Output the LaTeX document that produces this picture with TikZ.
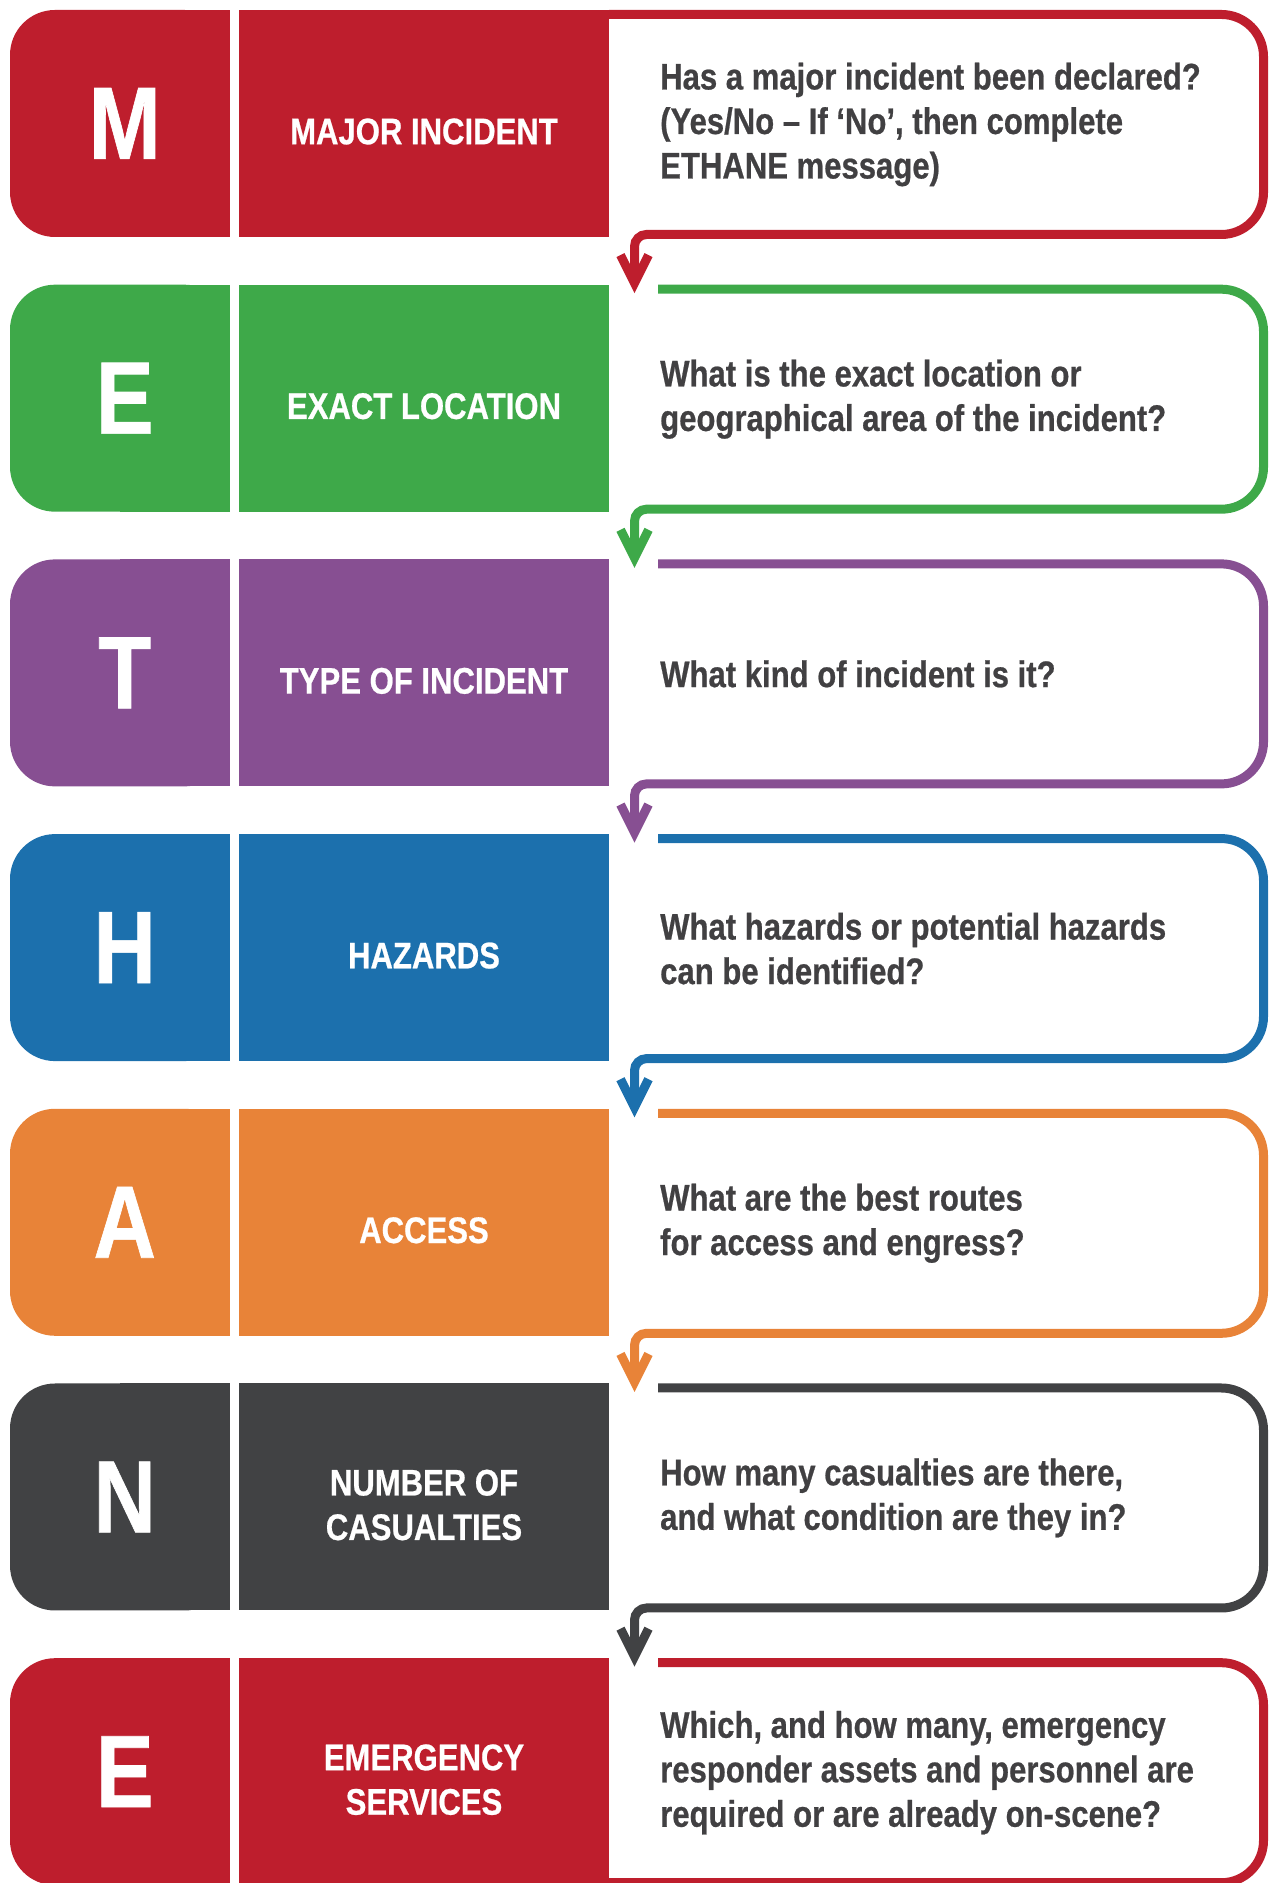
\documentclass[tikz,border=0pt]{standalone}
\usepackage{fontspec}
\setmainfont{Liberation Sans}
\newfontfamily\narrowsans[FakeStretch=0.84,FakeBold=0.6]{Liberation Sans}
\usepackage{tikz}
\usetikzlibrary{positioning,arrows.meta,backgrounds}
\definecolor{majorcolor}{RGB}{190,30,45}
\definecolor{locationcolor}{RGB}{62,169,73}
\definecolor{typecolor}{RGB}{135,79,146}
\definecolor{hazardscolor}{RGB}{28,112,173}
\definecolor{accesscolor}{RGB}{232,131,56}
\definecolor{casualtiescolor}{RGB}{65,66,68}
\definecolor{servicescolor}{RGB}{190,30,45}
\definecolor{questioncolor}{RGB}{65,64,66}

\begin{document}
\begin{tikzpicture}[x=1pt, y=1pt, >={Straight Barb[length=28pt,width=28pt]},
    letterbox/.style={anchor=north west, minimum width=219.5pt, minimum height=227pt, inner sep=0pt, outer sep=0pt,
        rounded corners=45pt, text=white, font=\narrowsans\bfseries\fontsize{103pt}{103pt}\selectfont,
        execute at begin node=\hspace*{10pt}},
    labelbox/.style={anchor=north west, minimum width=370pt, minimum height=227pt, inner sep=0pt, outer sep=0pt},
    labeltext/.style={text=white, align=center, inner sep=0pt, font=\narrowsans\bfseries\fontsize{37pt}{44.5pt}\selectfont},
    qarea/.style={anchor=north west, minimum width=654.5pt, minimum height=220pt, inner sep=0pt, outer sep=0pt},
    qtext/.style={anchor=west, align=left, inner sep=0pt, text=questioncolor, font=\narrowsans\bfseries\fontsize{37pt}{44.5pt}\selectfont},
    flowline/.style={line width=9pt, rounded corners=42pt}]

    \useasboundingbox (0,0) rectangle (1272,1883);

    % Lettres
    \node[letterbox, fill=majorcolor] (majorletter) at (10,1873) {M};
    \node[letterbox, fill=locationcolor] (locationletter) at (10,1598.3) {E};
    \node[letterbox, fill=typecolor] (typeletter) at (10,1323.6) {T};
    \node[letterbox, fill=hazardscolor] (hazardsletter) at (10,1048.9) {H};
    \node[letterbox, fill=accesscolor] (accessletter) at (10,774.2) {A};
    \node[letterbox, fill=casualtiescolor] (casualtiesletter) at (10,499.5) {N};
    \node[letterbox, fill=servicescolor] (servicesletter) at (10,224.8) {E};

    % Coins droits des lettres
    \begin{scope}[on background layer]
        \fill[majorcolor] (majorletter.north) rectangle (majorletter.south east);
        \fill[locationcolor] (locationletter.north) rectangle (locationletter.south east);
        \fill[typecolor] (typeletter.north) rectangle (typeletter.south east);
        \fill[hazardscolor] (hazardsletter.north) rectangle (hazardsletter.south east);
        \fill[accesscolor] (accessletter.north) rectangle (accessletter.south east);
        \fill[casualtiescolor] (casualtiesletter.north) rectangle (casualtiesletter.south east);
        \fill[servicescolor] (servicesletter.north) rectangle (servicesletter.south east);
    \end{scope}

    % Bandeaux
    \node[labelbox, fill=majorcolor] (majorlabel) at (239,1873) {};
    \node[labelbox, fill=locationcolor] (locationlabel) at (239,1598.3) {};
    \node[labelbox, fill=typecolor] (typelabel) at (239,1323.6) {};
    \node[labelbox, fill=hazardscolor] (hazardslabel) at (239,1048.9) {};
    \node[labelbox, fill=accesscolor] (accesslabel) at (239,774.2) {};
    \node[labelbox, fill=casualtiescolor] (casualtieslabel) at (239,499.5) {};
    \node[labelbox, fill=servicescolor] (serviceslabel) at (239,224.8) {};

    \node[labeltext] (majortitle) at ([yshift=-8pt]majorlabel.center) {MAJOR INCIDENT};
    \node[labeltext] (locationtitle) at ([yshift=-8pt]locationlabel.center) {EXACT LOCATION};
    \node[labeltext] (typetitle) at ([yshift=-8pt]typelabel.center) {TYPE OF INCIDENT};
    \node[labeltext] (hazardstitle) at ([yshift=-8pt]hazardslabel.center) {HAZARDS};
    \node[labeltext] (accesstitle) at ([yshift=-8pt]accesslabel.center) {ACCESS};
    \node[labeltext] (casualtiestitle) at ([yshift=-8pt]casualtieslabel.center) {NUMBER OF\\CASUALTIES};
    \node[labeltext] (servicestitle) at ([yshift=-8pt]serviceslabel.center) {EMERGENCY\\SERVICES};

    % Zones des questions
    \node[qarea] (majorarea) at (609,1868.5) {};
    \node[qarea] (locationarea) at (609,1593.8) {};
    \node[qarea] (typearea) at (609,1319.1) {};
    \node[qarea] (hazardsarea) at (609,1044.4) {};
    \node[qarea] (accessarea) at (609,769.7) {};
    \node[qarea] (casualtiesarea) at (609,495) {};
    \node[qarea] (servicesarea) at (609,220.3) {};

    % Cadres et flèches
    \draw[flowline, majorcolor, ->] (majorarea.north west) -- (majorarea.north east) -- (majorarea.south east)
        [rounded corners=12pt] -- ([xshift=25.5pt]majorarea.south west) -- ([xshift=25.5pt,yshift=-4pt]locationarea.north west);
    \draw[flowline, locationcolor, ->] ([xshift=49pt]locationarea.north west) -- (locationarea.north east) -- (locationarea.south east)
        [rounded corners=12pt] -- ([xshift=25.5pt]locationarea.south west) -- ([xshift=25.5pt,yshift=-4pt]typearea.north west);
    \draw[flowline, typecolor, ->] ([xshift=49pt]typearea.north west) -- (typearea.north east) -- (typearea.south east)
        [rounded corners=12pt] -- ([xshift=25.5pt]typearea.south west) -- ([xshift=25.5pt,yshift=-4pt]hazardsarea.north west);
    \draw[flowline, hazardscolor, ->] ([xshift=49pt]hazardsarea.north west) -- (hazardsarea.north east) -- (hazardsarea.south east)
        [rounded corners=12pt] -- ([xshift=25.5pt]hazardsarea.south west) -- ([xshift=25.5pt,yshift=-4pt]accessarea.north west);
    \draw[flowline, accesscolor, ->] ([xshift=49pt]accessarea.north west) -- (accessarea.north east) -- (accessarea.south east)
        [rounded corners=12pt] -- ([xshift=25.5pt]accessarea.south west) -- ([xshift=25.5pt,yshift=-4pt]casualtiesarea.north west);
    \draw[flowline, casualtiescolor, ->] ([xshift=49pt]casualtiesarea.north west) -- (casualtiesarea.north east) -- (casualtiesarea.south east)
        [rounded corners=12pt] -- ([xshift=25.5pt]casualtiesarea.south west) -- ([xshift=25.5pt,yshift=-4pt]servicesarea.north west);
    \draw[flowline, servicescolor] ([xshift=49pt]servicesarea.north west) -- (servicesarea.north east) -- (servicesarea.south east)
        -- (servicesarea.south west);

    % Questions
    \node[qtext] (majorquestion) at ([xshift=51pt]majorarea.west) {Has a major incident been declared?\\(Yes/No – If ‘No’, then complete\\ETHANE message)};
    \node[qtext] (locationquestion) at ([xshift=51pt]locationarea.west) {What is the exact location or\\geographical area of the incident?};
    \node[qtext] (typequestion) at ([xshift=51pt]typearea.west) {What kind of incident is it?};
    \node[qtext] (hazardsquestion) at ([xshift=51pt]hazardsarea.west) {What hazards or potential hazards\\can be identified?};
    \node[qtext] (accessquestion) at ([xshift=51pt]accessarea.west) {What are the best routes\\for access and engress?};
    \node[qtext] (casualtiesquestion) at ([xshift=51pt]casualtiesarea.west) {How many casualties are there,\\and what condition are they in?};
    \node[qtext] (servicesquestion) at ([xshift=51pt]servicesarea.west) {Which, and how many, emergency\\responder assets and personnel are\\required or are already on-scene?};
\end{tikzpicture}
\end{document}
